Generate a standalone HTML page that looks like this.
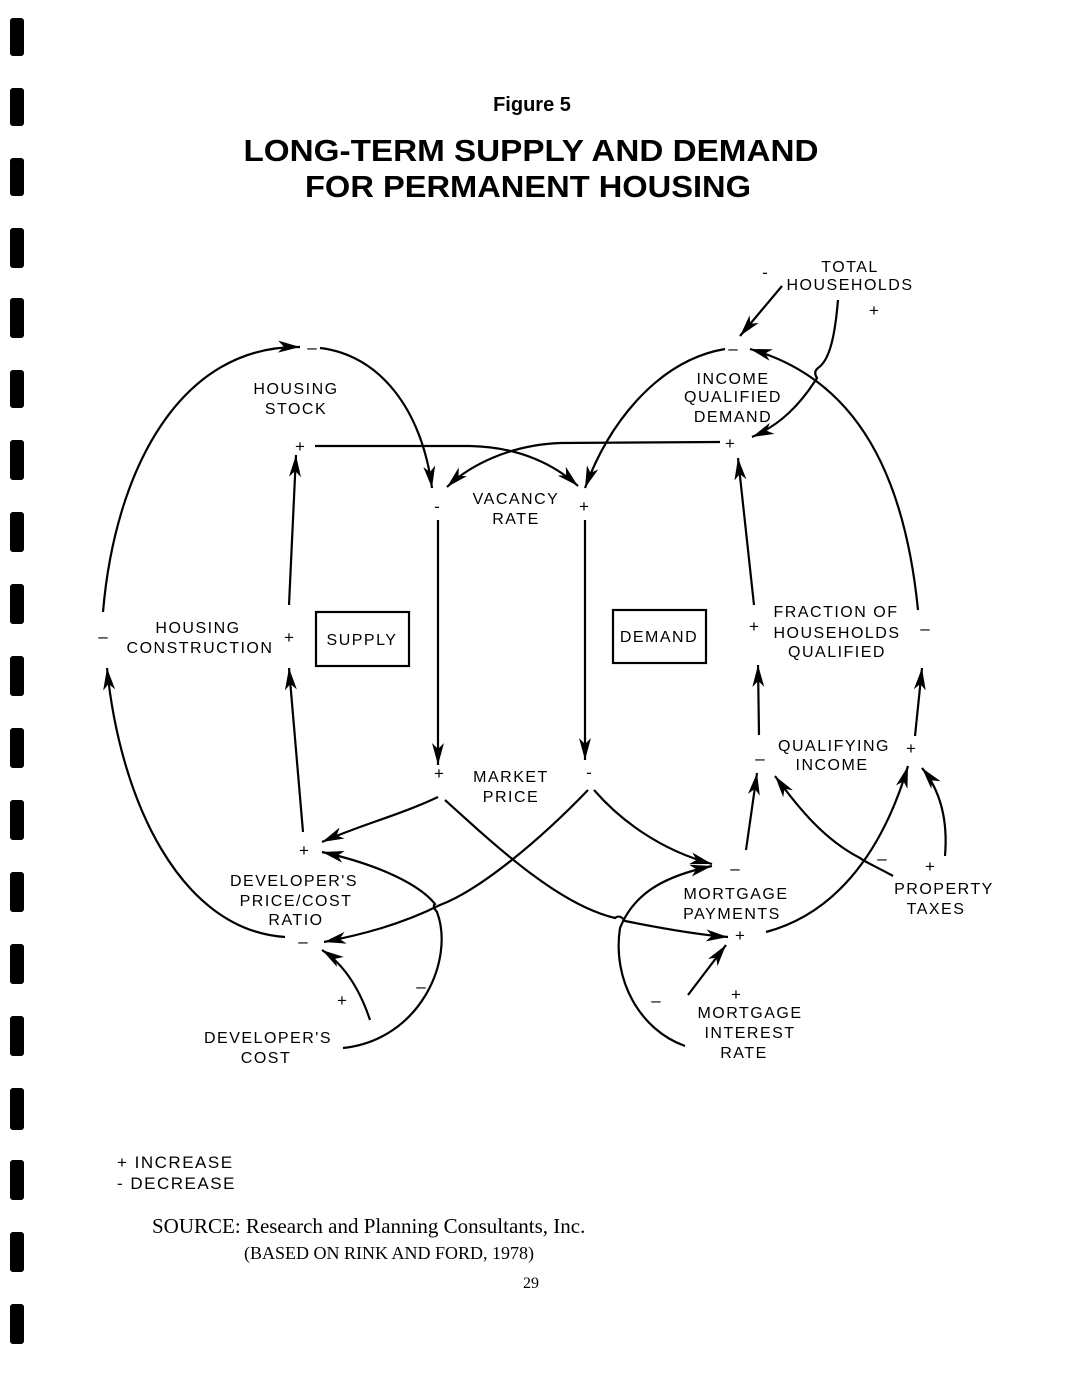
<!DOCTYPE html>
<html><head><meta charset="utf-8"><style>
html,body{margin:0;padding:0;background:#fff;}
svg{display:block;}
.t{font-family:"Liberation Sans",sans-serif;font-size:16px;letter-spacing:1.5px;fill:#000;text-anchor:middle;}
.s{font-family:"Liberation Sans",sans-serif;font-size:17px;fill:#000;text-anchor:middle;}
path,line{fill:none;stroke:#000;stroke-width:2.2;}
</style></head><body>
<svg width="1067" height="1379" viewBox="0 0 1067 1379" xmlns="http://www.w3.org/2000/svg">
<defs>
<marker id="a" markerWidth="24" markerHeight="12" refX="22" refY="6" orient="auto" markerUnits="userSpaceOnUse">
<path d="M0,0 L22,6 L0,12 L6,6 Z" style="fill:#000;stroke:none"/>
</marker>
</defs>
<g fill="#000">
<rect x="10" y="18" width="14" height="38" rx="3"/>
<rect x="10" y="88" width="14" height="38" rx="3"/>
<rect x="10" y="158" width="14" height="38" rx="3"/>
<rect x="10" y="228" width="14" height="40" rx="3"/>
<rect x="10" y="298" width="14" height="40" rx="3"/>
<rect x="10" y="370" width="14" height="38" rx="3"/>
<rect x="10" y="440" width="14" height="40" rx="3"/>
<rect x="10" y="512" width="14" height="40" rx="3"/>
<rect x="10" y="584" width="14" height="40" rx="3"/>
<rect x="10" y="656" width="14" height="40" rx="3"/>
<rect x="10" y="728" width="14" height="40" rx="3"/>
<rect x="10" y="800" width="14" height="40" rx="3"/>
<rect x="10" y="872" width="14" height="40" rx="3"/>
<rect x="10" y="944" width="14" height="40" rx="3"/>
<rect x="10" y="1016" width="14" height="40" rx="3"/>
<rect x="10" y="1088" width="14" height="42" rx="3"/>
<rect x="10" y="1160" width="14" height="40" rx="3"/>
<rect x="10" y="1232" width="14" height="40" rx="3"/>
<rect x="10" y="1304" width="14" height="40" rx="3"/>
</g>
<text x="532" y="111" style="font-family:'Liberation Sans',sans-serif;font-weight:bold;font-size:20px;text-anchor:middle">Figure 5</text>
<text x="531" y="161" textLength="575" lengthAdjust="spacingAndGlyphs" style="font-family:'Liberation Sans',sans-serif;font-weight:bold;font-size:31px;text-anchor:middle">LONG-TERM SUPPLY AND DEMAND</text>
<text x="528" y="197" textLength="446" lengthAdjust="spacingAndGlyphs" style="font-family:'Liberation Sans',sans-serif;font-weight:bold;font-size:31px;text-anchor:middle">FOR PERMANENT HOUSING</text>

<text class="t" x="296" y="394">HOUSING</text>
<text class="t" x="296" y="414">STOCK</text>
<text class="t" x="516" y="504">VACANCY</text>
<text class="t" x="516" y="524">RATE</text>
<text class="t" x="733" y="384">INCOME</text>
<text class="t" x="733" y="402">QUALIFIED</text>
<text class="t" x="733" y="422">DEMAND</text>
<text class="t" x="850" y="272">TOTAL</text>
<text class="t" x="850" y="290">HOUSEHOLDS</text>
<text class="t" x="198" y="633">HOUSING</text>
<text class="t" x="200" y="653">CONSTRUCTION</text>
<rect x="316" y="612" width="93" height="54" fill="none" stroke="#000" stroke-width="2.2"/>
<text class="t" x="362" y="645">SUPPLY</text>
<rect x="613" y="610" width="93" height="53" fill="none" stroke="#000" stroke-width="2.2"/>
<text class="t" x="659" y="642">DEMAND</text>
<text class="t" x="836" y="617">FRACTION OF</text>
<text class="t" x="837" y="638">HOUSEHOLDS</text>
<text class="t" x="837" y="657">QUALIFIED</text>
<text class="t" x="834" y="751">QUALIFYING</text>
<text class="t" x="832" y="770">INCOME</text>
<text class="t" x="511" y="782">MARKET</text>
<text class="t" x="511" y="802">PRICE</text>
<text class="t" x="294" y="886">DEVELOPER'S</text>
<text class="t" x="296" y="906">PRICE/COST</text>
<text class="t" x="296" y="925">RATIO</text>
<text class="t" x="736" y="899">MORTGAGE</text>
<text class="t" x="732" y="919">PAYMENTS</text>
<text class="t" x="944" y="894">PROPERTY</text>
<text class="t" x="936" y="914">TAXES</text>
<text class="t" x="750" y="1018">MORTGAGE</text>
<text class="t" x="750" y="1038">INTEREST</text>
<text class="t" x="744" y="1058">RATE</text>
<text class="t" x="268" y="1043">DEVELOPER'S</text>
<text class="t" x="266" y="1063">COST</text>

<text class="s" x="312" y="353">–</text>
<text class="s" x="300" y="452">+</text>
<text class="s" x="437" y="512">-</text>
<text class="s" x="584" y="512">+</text>
<text class="s" x="733" y="354">–</text>
<text class="s" x="730" y="449">+</text>
<text class="s" x="765" y="278">-</text>
<text class="s" x="874" y="316">+</text>
<text class="s" x="103" y="642">–</text>
<text class="s" x="289" y="643">+</text>
<text class="s" x="754" y="632">+</text>
<text class="s" x="925" y="634">–</text>
<text class="s" x="760" y="764">–</text>
<text class="s" x="911" y="754">+</text>
<text class="s" x="439" y="779">+</text>
<text class="s" x="589" y="778">-</text>
<text class="s" x="304" y="856">+</text>
<text class="s" x="303" y="947">–</text>
<text class="s" x="735" y="874">–</text>
<text class="s" x="740" y="941">+</text>
<text class="s" x="882" y="864">–</text>
<text class="s" x="930" y="872">+</text>
<text class="s" x="736" y="1000">+</text>
<text class="s" x="656" y="1006">–</text>
<text class="s" x="342" y="1006">+</text>
<text class="s" x="421" y="992">–</text>

<path d="M285,937 C180,930 120,800 107,668" marker-end="url(#a)"/>
<path d="M103,612 C115,470 180,345 300,347" marker-end="url(#a)"/>
<path d="M320,348 C380,355 422,410 432,488" marker-end="url(#a)"/>
<path d="M315,446 L470,446 C520,447 555,465 578,486" marker-end="url(#a)"/>
<path d="M720,442 L560,443 C510,445 470,465 447,487" marker-end="url(#a)"/>
<path d="M725,349 C660,360 610,420 585,488" marker-end="url(#a)"/>
<line x1="438" y1="520" x2="438" y2="765" marker-end="url(#a)"/>
<line x1="585" y1="520" x2="585" y2="760" marker-end="url(#a)"/>
<line x1="289" y1="605" x2="296" y2="455" marker-end="url(#a)"/>
<line x1="303" y1="832" x2="289" y2="668" marker-end="url(#a)"/>
<path d="M438,797 C400,815 360,825 322,842" marker-end="url(#a)"/>
<path d="M445,800 C500,850 560,905 615,918 Q620,914 625,921 C660,928 700,935 728,937" marker-end="url(#a)"/>
<path d="M588,790 C540,840 480,890 440,905 C400,925 360,935 324,942" marker-end="url(#a)"/>
<path d="M594,790 C620,820 660,850 712,864" marker-end="url(#a)"/>
<path d="M343,1048 C420,1040 455,960 437,912 Q432,906 435,904 C420,885 380,865 322,852" marker-end="url(#a)"/>
<path d="M370,1020 C360,990 345,965 322,950" marker-end="url(#a)"/>
<path d="M685,1046 C640,1030 612,980 620,928 C635,890 670,875 712,866" marker-end="url(#a)"/>
<line x1="688" y1="995" x2="726" y2="945" marker-end="url(#a)"/>
<line x1="746" y1="850" x2="757" y2="773" marker-end="url(#a)"/>
<path d="M766,932 C830,915 880,860 908,766" marker-end="url(#a)"/>
<path d="M893,876 C875,866 865,862 860,858 C825,840 800,810 775,776" marker-end="url(#a)"/>
<path d="M945,856 C948,820 940,790 922,768" marker-end="url(#a)"/>
<line x1="759" y1="735" x2="758" y2="665" marker-end="url(#a)"/>
<line x1="754" y1="605" x2="738" y2="458" marker-end="url(#a)"/>
<line x1="915" y1="736" x2="922" y2="668" marker-end="url(#a)"/>
<path d="M918,610 C905,480 860,380 750,349" marker-end="url(#a)"/>
<path d="M838,300 C835,335 830,360 818,368 Q813,372 817,378 C800,405 780,425 752,437" marker-end="url(#a)"/>
<line x1="782" y1="286" x2="740" y2="336" marker-end="url(#a)"/>

<text x="117" y="1168" style="font-family:'Liberation Sans',sans-serif;font-size:17px;letter-spacing:1.5px">+ INCREASE</text>
<text x="117" y="1189" style="font-family:'Liberation Sans',sans-serif;font-size:17px;letter-spacing:1.5px">- DECREASE</text>
<text x="152" y="1233" style="font-family:'Liberation Serif',serif;font-size:21px">SOURCE: Research and Planning Consultants, Inc.</text>
<text x="244" y="1259" style="font-family:'Liberation Serif',serif;font-size:18px">(BASED ON RINK AND FORD, 1978)</text>
<text x="523" y="1288" style="font-family:'Liberation Serif',serif;font-size:16px">29</text>
</svg>
</body></html>
